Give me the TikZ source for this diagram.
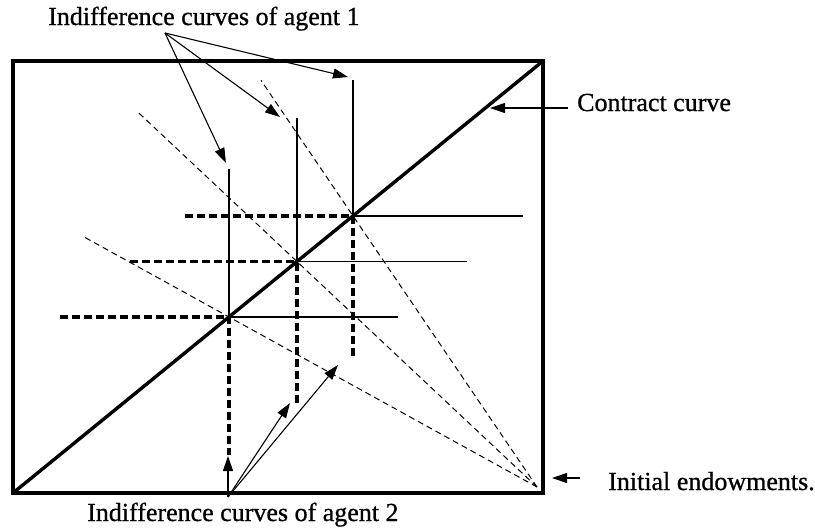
\documentclass[tikz,border=0pt]{standalone}
\usepackage{fontspec}
\setmainfont{Liberation Serif}
\newfontfamily\labfont[FakeBold=0.8]{Liberation Serif}
\usetikzlibrary{arrows.meta,calc}
\begin{document}
\begin{tikzpicture}[x=1pt,y=-1pt,
  lab/.style={font=\labfont\fontsize{26}{30}\selectfont, inner sep=0pt, anchor=base west},
  frame/.style={line width=3.4pt, line join=miter},
  curveA/.style={line width=1.7pt},
  curveB/.style={line width=3.4pt, dash pattern=on 8pt off 4pt},
  budget/.style={line width=1pt, dash pattern=on 6pt off 4pt},
  pointer/.style={line width=1.1pt, -{Triangle[length=15pt,width=10pt]}}]
\useasboundingbox (0,0) rectangle (815,531);
% box and contract curve
\coordinate (TL) at (13,61);
\coordinate (TR) at (543,61);
\coordinate (BR) at (543,493);
\coordinate (BL) at (13,493);
\draw[frame] (TL) -- (TR) -- (BR) -- (BL) -- cycle;
\draw[frame] (BL) -- (TR);
% equilibrium points on the contract curve
\coordinate (P1) at ($(BL)!0.4075!(TR)$);
\coordinate (P2) at ($(BL)!0.5358!(TR)$);
\coordinate (P3) at ($(BL)!0.6415!(TR)$);
\coordinate (E) at (537,487);
% budget lines
\coordinate (D1) at ($(E)!1.47!(P1)$);
\coordinate (D2) at ($(E)!1.67!(P2)$);
\coordinate (D3) at ($(E)!1.50!(P3)$);
\draw[budget] (E) -- (D1);
\draw[budget] (E) -- (D2);
\draw[budget] (E) -- (D3);
% agent 1 indifference curves
\coordinate (A1t) at (P1 |- 0,169);
\coordinate (A1r) at (P1 -| 398,0);
\coordinate (A2t) at (P2 |- 0,118);
\coordinate (A2r) at (P2 -| 467,0);
\coordinate (A3t) at (P3 |- 0,80);
\coordinate (A3r) at (P3 -| 523,0);
\draw[curveA] (A1t) -- (P1) -- (A1r);
\draw[curveA] (A2t) -- (P2) -- (A2r);
\draw[curveA] (A3t) -- (P3) -- (A3r);
% agent 2 indifference curves
\coordinate (B1l) at (P1 -| 60,0);
\coordinate (B1b) at (P1 |- 0,455);
\coordinate (B2l) at (P2 -| 130,0);
\coordinate (B2b) at (P2 |- 0,405);
\coordinate (B3l) at (P3 -| 185,0);
\coordinate (B3b) at (P3 |- 0,357);
\draw[curveB] (B1l) -- (P1) -- (B1b);
\draw[curveB] (B2l) -- (P2) -- (B2b);
\draw[curveB] (B3l) -- (P3) -- (B3b);
% labels
\node[lab] (lab1) at (48,25) {Indifference curves of agent 1};
\node[lab] (lab2) at (87,521) {Indifference curves of agent 2};
\node[lab] (cc) at (577,111) {Contract curve};
\node[lab] (ie) at (608,490) {Initial endowments.};
% pointers
\coordinate (O1) at (165,33);
\coordinate (T11) at (348,77);
\coordinate (T12) at (280,117);
\coordinate (T13) at (226,163);
\draw[pointer] (O1) -- (T11);
\draw[pointer] (O1) -- (T12);
\draw[pointer] (O1) -- (T13);
\coordinate (O2) at (228,497);
\coordinate (T21) at (228,456);
\coordinate (T22) at (290,403);
\coordinate (T23) at (338,365);
\draw[pointer] (O2) -- (T21);
\draw[pointer] (O2) -- (T22);
\draw[pointer] (O2) -- (T23);
\coordinate (Oc) at (568,108);
\coordinate (Tc) at (490,108);
\draw[pointer] (Oc) -- (Tc);
\coordinate (Oe) at (580,478);
\coordinate (Te) at (552,478);
\draw[pointer] (Oe) -- (Te);
\end{tikzpicture}
\end{document}
